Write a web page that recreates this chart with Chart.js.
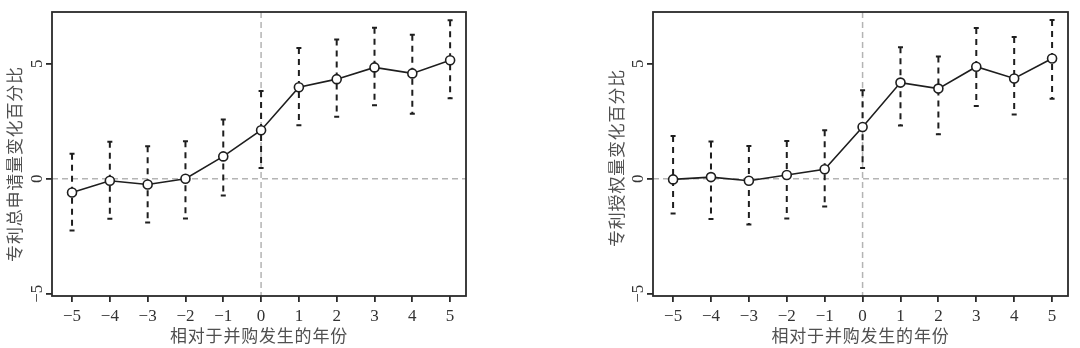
<!DOCTYPE html>
<html>
<head>
<meta charset="utf-8">
<script src="https://cdn.jsdelivr.net/npm/chart.js@4"></script>
<style>
  body { margin: 0; background: #fff; }
  .panel { position: absolute; top: 0; width: 540px; height: 348px; }
</style>
</head>
<body>
<div class="panel" style="left:0"><canvas id="graficoTotal" width="540" height="348"></canvas></div>
<div class="panel" style="left:540px"><canvas id="graficoAutorizado" width="540" height="348"></canvas></div>
<script>
// Años relativos a la fusión
const anios = [-5, -4, -3, -2, -1, 0, 1, 2, 3, 4, 5];
const ticksX = [-5, -4, -3, -2, -1, 0, 1, 2, 3, 4, 5];
const ticksY = [-5, 0, 5];

// Panel izquierdo: 专利总申请量
const totalValores = [-0.60, -0.09, -0.25, 0.00, 0.97, 2.11, 3.98, 4.33, 4.84, 4.58, 5.15];
const totalInferior = [-2.25, -1.74, -1.90, -1.73, -0.73, 0.47, 2.33, 2.69, 3.20, 2.83, 3.50];
const totalSuperior = [1.09, 1.61, 1.41, 1.63, 2.57, 3.81, 5.68, 6.05, 6.56, 6.26, 6.89];

// Panel derecho: 专利授权量
const autValores = [-0.03, 0.07, -0.09, 0.16, 0.41, 2.25, 4.18, 3.92, 4.87, 4.36, 5.23];
const autInferior = [-1.51, -1.75, -1.99, -1.73, -1.21, 0.47, 2.31, 1.93, 3.16, 2.79, 3.48];
const autSuperior = [1.86, 1.62, 1.42, 1.64, 2.11, 3.85, 5.72, 5.31, 6.55, 6.16, 6.90];

const tituloX = '相对于并购发生的年份';
const tituloYTotal = '专利总申请量变化百分比';
const tituloYAut = '专利授权量变化百分比';

const fuenteNum = '"Liberation Serif", "DejaVu Serif", serif';
const fuenteCJK = '"Noto Sans CJK SC", sans-serif';
const menos = v => String(v).replace('-', '\u2212');

// Dibuja líneas de referencia, barras de error, marco y textos
const pluginExtras = {
  id: 'extras',
  beforeDatasetsDraw(chart, args, opts) {
    const { ctx, chartArea: a, scales: { x, y } } = chart;
    ctx.save();
    // líneas de referencia en 0
    ctx.strokeStyle = '#b4b4b4';
    ctx.lineWidth = 1.5;
    ctx.setLineDash([6, 4]);
    ctx.beginPath();
    ctx.moveTo(a.left, y.getPixelForValue(0));
    ctx.lineTo(a.right, y.getPixelForValue(0));
    ctx.moveTo(x.getPixelForValue(0), a.top);
    ctx.lineTo(x.getPixelForValue(0), a.bottom);
    ctx.stroke();
    // barras de error
    ctx.strokeStyle = '#1e1e1e';
    ctx.lineWidth = 2;
    anios.forEach((anio, i) => {
      const px = x.getPixelForValue(anio);
      const y1 = y.getPixelForValue(opts.inferior[i]);
      const y2 = y.getPixelForValue(opts.superior[i]);
      ctx.setLineDash([6, 5]);
      ctx.beginPath();
      ctx.moveTo(px, y2);
      ctx.lineTo(px, y1);
      ctx.stroke();
      ctx.setLineDash([]);
      ctx.beginPath();
      ctx.moveTo(px - 2.5, y2); ctx.lineTo(px + 2.5, y2);
      ctx.moveTo(px - 2.5, y1); ctx.lineTo(px + 2.5, y1);
      ctx.stroke();
    });
    ctx.restore();
  },
  afterDraw(chart, args, opts) {
    const { ctx, chartArea: a, scales: { y } } = chart;
    ctx.save();
    // marco
    ctx.strokeStyle = '#2a2a2a';
    ctx.lineWidth = 1.8;
    ctx.strokeRect(a.left, a.top, a.right - a.left, a.bottom - a.top);
    // etiquetas del eje Y giradas
    ctx.fillStyle = '#333';
    ctx.font = '17px ' + fuenteNum;
    ctx.textAlign = 'center';
    ctx.textBaseline = 'middle';
    ticksY.forEach(v => {
      ctx.save();
      ctx.translate(a.left - 14, y.getPixelForValue(v));
      ctx.rotate(-Math.PI / 2);
      ctx.fillText(menos(v), 0, 0);
      ctx.restore();
    });
    // títulos
    ctx.fillStyle = '#505050';
    ctx.font = '17px ' + fuenteCJK;
    ctx.letterSpacing = '0.8px';
    ctx.fillText(tituloX, (a.left + a.right) / 2, 336);
    ctx.save();
    ctx.translate(a.left - opts.tituloDx, (a.top + a.bottom) / 2 + opts.tituloDy);
    ctx.rotate(-Math.PI / 2);
    ctx.fillText(opts.tituloY, 0, 0);
    ctx.restore();
    ctx.restore();
  }
};

function crearGrafico(id, valores, inferior, superior, tituloY, padIzq, padDer, tituloDx, tituloDy) {
  const ctx = document.getElementById(id).getContext('2d');
  return new Chart(ctx, {
    type: 'line',
    data: {
      datasets: [{
        data: anios.map((a, i) => ({ x: a, y: valores[i] })),
        borderColor: '#1e1e1e',
        borderWidth: 1.6,
        pointRadius: 4.5,
        pointBackgroundColor: '#fff',
        pointBorderColor: '#1e1e1e',
        pointBorderWidth: 1.6,
        tension: 0
      }]
    },
    options: {
      responsive: false,
      animation: false,
      layout: { padding: { left: padIzq, right: padDer, top: 12, bottom: 0 } },
      plugins: {
        legend: { display: false },
        tooltip: { enabled: false },
        extras: { inferior, superior, tituloY, tituloDx, tituloDy }
      },
      scales: {
        x: {
          type: 'linear',
          min: -5.53,
          max: 5.42,
          afterBuildTicks: s => { s.ticks = ticksX.map(v => ({ value: v })); },
          afterFit: s => { s.height = 52; },
          grid: { drawOnChartArea: false, drawTicks: true, tickLength: 6, color: '#2a2a2a', lineWidth: 1.8 },
          border: { display: false },
          ticks: {
            padding: 4,
            color: '#333',
            font: { family: fuenteNum, size: 17 },
            callback: v => menos(v),
            maxRotation: 0
          }
        },
        y: {
          min: -5.1,
          max: 7.25,
          afterBuildTicks: s => { s.ticks = ticksY.map(v => ({ value: v })); },
          afterFit: s => { s.width = 20; },
          grid: { drawOnChartArea: false, drawTicks: true, tickLength: 6, color: '#2a2a2a', lineWidth: 1.8 },
          border: { display: false },
          ticks: { display: true, color: 'rgba(0,0,0,0)', padding: 0 }
        }
      }
    },
    plugins: [pluginExtras]
  });
}

crearGrafico('graficoTotal', totalValores, totalInferior, totalSuperior, tituloYTotal, 32, 74, 37, 10);
crearGrafico('graficoAutorizado', autValores, autInferior, autSuperior, tituloYAut, 93, 12, 36, 4);
</script>
</body>
</html>
